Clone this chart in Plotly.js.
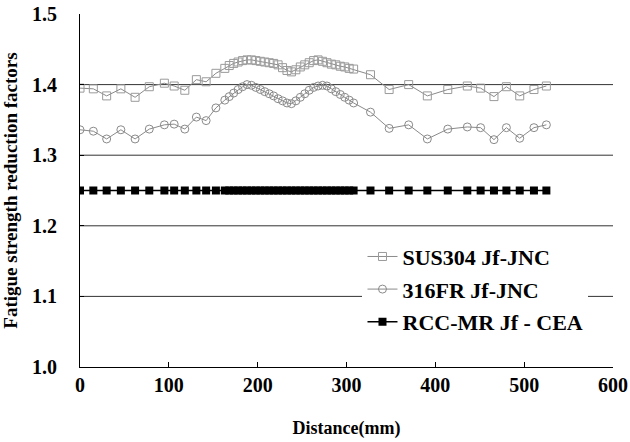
<!DOCTYPE html>
<html>
<head>
<meta charset="utf-8">
<script src="https://cdn.plot.ly/plotly-3.0.1.min.js"></script>
<style>html,body{margin:0;padding:0;background:#fff;}#chart{width:630px;height:442px;}</style>
</head>
<body>
<div id="chart"></div>
<script>
// Distance (mm) of measurement points
const distance = [0, 15, 30, 46, 62, 78, 95, 106, 118, 131, 142, 153,
  163, 168, 173, 178, 183, 188, 193, 198, 203, 208, 213, 218, 223, 228, 233, 238,
  243, 248, 253, 258, 263, 268, 273, 278, 283, 288, 293, 298, 303, 308,
  327, 348, 370, 391, 414, 436, 451, 466, 480, 495, 511, 525];

const sus304 = [1.395, 1.394, 1.384, 1.394, 1.382, 1.397, 1.402, 1.398, 1.392, 1.407, 1.404, 1.416,
  1.423, 1.427, 1.430, 1.432, 1.434, 1.435, 1.435, 1.434, 1.433, 1.432, 1.431, 1.430, 1.428, 1.424, 1.420, 1.418,
  1.421, 1.425, 1.428, 1.431, 1.434, 1.435, 1.433, 1.431, 1.429, 1.428, 1.426, 1.425, 1.423, 1.422,
  1.414, 1.393, 1.400, 1.384, 1.393, 1.398, 1.395, 1.383, 1.397, 1.384, 1.393, 1.398];

const fr316 = [1.336, 1.334, 1.323, 1.336, 1.323, 1.337, 1.343, 1.344, 1.337, 1.354, 1.349, 1.367,
  1.378, 1.383, 1.388, 1.393, 1.397, 1.400, 1.399, 1.396, 1.393, 1.390, 1.387, 1.384, 1.380, 1.377, 1.374, 1.373,
  1.377, 1.382, 1.387, 1.392, 1.396, 1.398, 1.399, 1.398, 1.394, 1.390, 1.386, 1.382, 1.378, 1.374,
  1.361, 1.338, 1.343, 1.323, 1.337, 1.340, 1.339, 1.322, 1.339, 1.324, 1.339, 1.343];

const rccmr = [1.25, 1.25, 1.25, 1.25, 1.25, 1.25, 1.25, 1.25, 1.25, 1.25, 1.25, 1.25,
  1.25, 1.25, 1.25, 1.25, 1.25, 1.25, 1.25, 1.25, 1.25, 1.25, 1.25, 1.25, 1.25, 1.25, 1.25, 1.25,
  1.25, 1.25, 1.25, 1.25, 1.25, 1.25, 1.25, 1.25, 1.25, 1.25, 1.25, 1.25, 1.25, 1.25,
  1.25, 1.25, 1.25, 1.25, 1.25, 1.25, 1.25, 1.25, 1.25, 1.25, 1.25, 1.25];

const seriesNames = ['SUS304 Jf-JNC', '316FR Jf-JNC', 'RCC-MR Jf - CEA'];
const xTicks = [0, 100, 200, 300, 400, 500, 600];
const yTicks = [1.0, 1.1, 1.2, 1.3, 1.4, 1.5];
const gridValues = [1.1, 1.2, 1.3, 1.4];

const serif = 'Liberation Serif, Times New Roman, serif';

const traces = [
  {x: distance, y: sus304, name: seriesNames[0], type: 'scatter', mode: 'lines+markers', legendgroup: 'a',
   line: {color: '#8a8a8a', width: 1},
   marker: {symbol: 'square-open', size: 8, color: '#9a9a9a', line: {width: 1}}},
  {x: distance, y: fr316, name: seriesNames[1], type: 'scatter', mode: 'lines+markers', legendgroup: 'b',
   line: {color: '#8a8a8a', width: 1},
   marker: {symbol: 'circle-open', size: 8, color: '#8a8a8a', line: {width: 1}}},
  {x: distance, y: rccmr, name: seriesNames[2], type: 'scatter', mode: 'lines+markers', legendgroup: 'c',
   line: {color: '#000', width: 1.5},
   marker: {symbol: 'square', size: 8, color: '#000'}}
];

const layout = {
  width: 630, height: 442,
  margin: {l: 80, r: 17, t: 14, b: 75},
  paper_bgcolor: '#fff', plot_bgcolor: '#fff',
  font: {family: serif, size: 20, color: '#000', weight: 'bold'},
  showlegend: true,
  legend: {x: 0.53, y: 0.372, xanchor: 'left', yanchor: 'top', bgcolor: '#fff',
           font: {family: serif, size: 22, color: '#000', weight: 'bold'}, tracegroupgap: 1},
  xaxis: {range: [0, 600], tickvals: xTicks, ticktext: xTicks.map(String), showgrid: false, zeroline: false,
          showline: true, linecolor: '#000', linewidth: 1, ticks: 'inside', ticklen: 5, tickcolor: '#000',
          tickfont: {family: serif, size: 20, weight: 'bold'},
          title: {text: 'Distance(mm)', font: {family: serif, size: 18, weight: 'bold'}, standoff: 26}},
  yaxis: {range: [1.0, 1.5], tickvals: yTicks, ticktext: yTicks.map(v => v.toFixed(1)), showgrid: false, zeroline: false,
          showline: true, linecolor: '#000', linewidth: 1, ticks: 'inside', ticklen: 4, tickcolor: '#000',
          ticklabelstandoff: 18,
          tickfont: {family: serif, size: 20, weight: 'bold'},
          title: {text: 'Fatigue strength reduction factors', font: {family: serif, size: 19, weight: 'bold'}, standoff: 9}},
  shapes: gridValues.map(v => ({type: 'line', xref: 'paper', yref: 'y', x0: 0, x1: 1, y0: v, y1: v,
                                line: {color: '#333', width: 1}, layer: 'below'}))
};

Plotly.newPlot('chart', traces, layout, {displayModeBar: false, staticPlot: true});
</script>
</body>
</html>
